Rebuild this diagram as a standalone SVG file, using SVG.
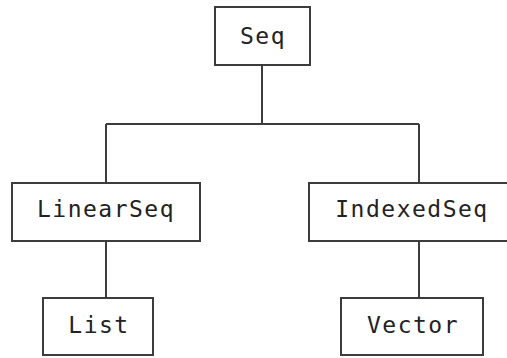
<svg xmlns="http://www.w3.org/2000/svg" width="507" height="358" viewBox="0 0 507 358">
<style>
.box{fill:#fff;stroke:#3c3c3c;stroke-width:2}
.ln{fill:none;stroke:#3c3c3c;stroke-width:2}
.t{font-family:"DejaVu Sans Mono","Liberation Mono",monospace;font-size:23px;letter-spacing:1.5px;fill:#222;text-anchor:middle}
</style>
<rect width="507" height="358" fill="#fff"/>
<g id="connectors">
<path class="ln" d="M262,65 V124 M106,124 H419 M106,124 V183 M419,124 V183 M106,241 V298 M419,241 V298"/>
</g>
<g id="seq"><rect class="box" x="215" y="7" width="95" height="58"/><text class="t" x="263" y="44">Seq</text></g>
<g id="linearseq"><rect class="box" x="12" y="183" width="188" height="58"/><text class="t" x="106" y="217">LinearSeq</text></g>
<g id="indexedseq"><rect class="box" x="309" y="183" width="210" height="58"/><text class="t" x="412" y="217">IndexedSeq</text></g>
<g id="list"><rect class="box" x="43" y="298" width="110" height="57"/><text class="t" x="99" y="333">List</text></g>
<g id="vector"><rect class="box" x="341" y="298" width="142" height="57"/><text class="t" x="413" y="333">Vector</text></g>
</svg>
